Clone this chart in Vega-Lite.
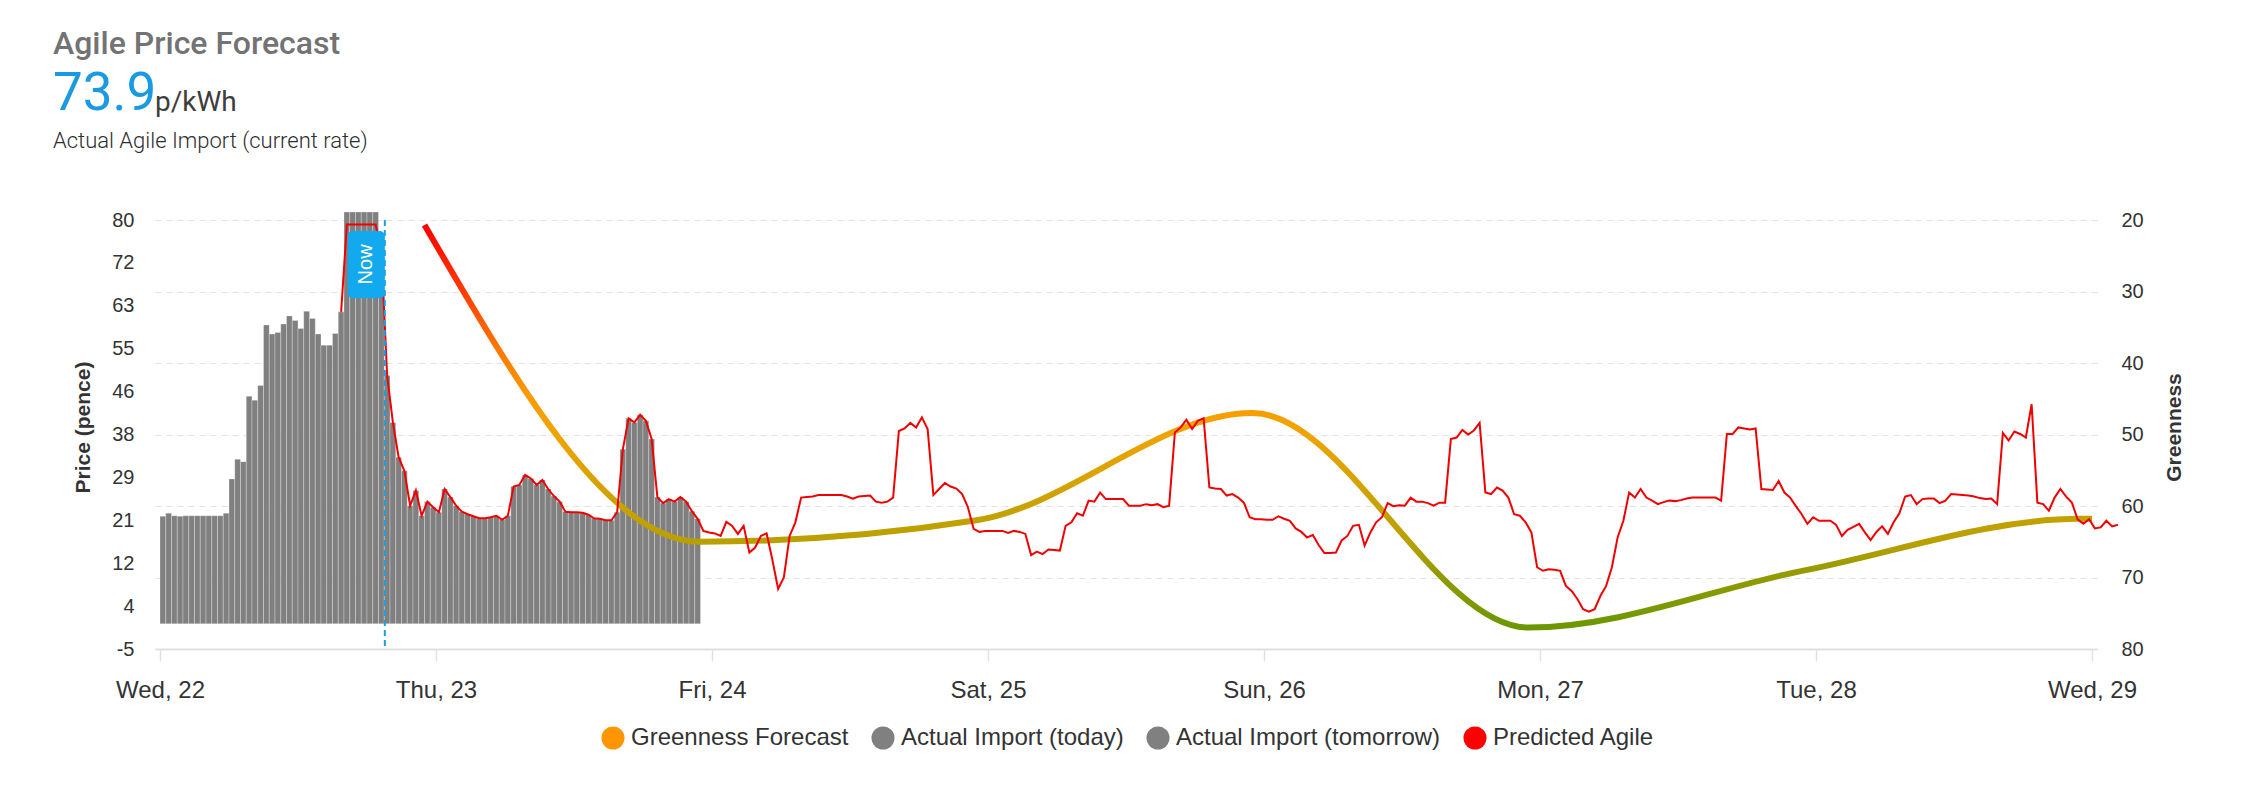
{
  "$schema": "https://vega.github.io/schema/vega-lite/v6.json",
  "background": "#ffffff",
  "padding": {"left": 53, "top": 28, "right": 5, "bottom": 5},
  "config": {"view": {"stroke": null}, "font": "Liberation Sans"},
  "title": {
    "text": "Agile Price Forecast",
    "subtitle": "73.9",
    "anchor": "start",
    "frame": "group",
    "dx": -102,
    "font": "Roboto",
    "fontSize": 32,
    "fontWeight": 500,
    "color": "#737373",
    "subtitleFont": "Roboto",
    "subtitleFontSize": 53,
    "subtitleFontWeight": 400,
    "subtitleColor": "#1a9ae0",
    "subtitlePadding": 7,
    "offset": -33
  },
  "datasets": {
    "bars": [
      {"s": "2025-01-22T00:00", "e": "2025-01-22T00:30", "p": 21.3, "series": "Actual Import (today)"},
      {"s": "2025-01-22T00:30", "e": "2025-01-22T01:00", "p": 21.9, "series": "Actual Import (today)"},
      {"s": "2025-01-22T01:00", "e": "2025-01-22T01:30", "p": 21.4, "series": "Actual Import (today)"},
      {"s": "2025-01-22T01:30", "e": "2025-01-22T02:00", "p": 21.3, "series": "Actual Import (today)"},
      {"s": "2025-01-22T02:00", "e": "2025-01-22T02:30", "p": 21.4, "series": "Actual Import (today)"},
      {"s": "2025-01-22T02:30", "e": "2025-01-22T03:00", "p": 21.4, "series": "Actual Import (today)"},
      {"s": "2025-01-22T03:00", "e": "2025-01-22T03:30", "p": 21.4, "series": "Actual Import (today)"},
      {"s": "2025-01-22T03:30", "e": "2025-01-22T04:00", "p": 21.4, "series": "Actual Import (today)"},
      {"s": "2025-01-22T04:00", "e": "2025-01-22T04:30", "p": 21.4, "series": "Actual Import (today)"},
      {"s": "2025-01-22T04:30", "e": "2025-01-22T05:00", "p": 21.4, "series": "Actual Import (today)"},
      {"s": "2025-01-22T05:00", "e": "2025-01-22T05:30", "p": 21.4, "series": "Actual Import (today)"},
      {"s": "2025-01-22T05:30", "e": "2025-01-22T06:00", "p": 21.9, "series": "Actual Import (today)"},
      {"s": "2025-01-22T06:00", "e": "2025-01-22T06:30", "p": 28.7, "series": "Actual Import (today)"},
      {"s": "2025-01-22T06:30", "e": "2025-01-22T07:00", "p": 32.6, "series": "Actual Import (today)"},
      {"s": "2025-01-22T07:00", "e": "2025-01-22T07:30", "p": 32.1, "series": "Actual Import (today)"},
      {"s": "2025-01-22T07:30", "e": "2025-01-22T08:00", "p": 45.1, "series": "Actual Import (today)"},
      {"s": "2025-01-22T08:00", "e": "2025-01-22T08:30", "p": 44.3, "series": "Actual Import (today)"},
      {"s": "2025-01-22T08:30", "e": "2025-01-22T09:00", "p": 47.2, "series": "Actual Import (today)"},
      {"s": "2025-01-22T09:00", "e": "2025-01-22T09:30", "p": 59.2, "series": "Actual Import (today)"},
      {"s": "2025-01-22T09:30", "e": "2025-01-22T10:00", "p": 57.4, "series": "Actual Import (today)"},
      {"s": "2025-01-22T10:00", "e": "2025-01-22T10:30", "p": 57.7, "series": "Actual Import (today)"},
      {"s": "2025-01-22T10:30", "e": "2025-01-22T11:00", "p": 59.4, "series": "Actual Import (today)"},
      {"s": "2025-01-22T11:00", "e": "2025-01-22T11:30", "p": 61.0, "series": "Actual Import (today)"},
      {"s": "2025-01-22T11:30", "e": "2025-01-22T12:00", "p": 60.1, "series": "Actual Import (today)"},
      {"s": "2025-01-22T12:00", "e": "2025-01-22T12:30", "p": 58.5, "series": "Actual Import (today)"},
      {"s": "2025-01-22T12:30", "e": "2025-01-22T13:00", "p": 61.9, "series": "Actual Import (today)"},
      {"s": "2025-01-22T13:00", "e": "2025-01-22T13:30", "p": 60.5, "series": "Actual Import (today)"},
      {"s": "2025-01-22T13:30", "e": "2025-01-22T14:00", "p": 57.4, "series": "Actual Import (today)"},
      {"s": "2025-01-22T14:00", "e": "2025-01-22T14:30", "p": 55.2, "series": "Actual Import (today)"},
      {"s": "2025-01-22T14:30", "e": "2025-01-22T15:00", "p": 55.2, "series": "Actual Import (today)"},
      {"s": "2025-01-22T15:00", "e": "2025-01-22T15:30", "p": 57.5, "series": "Actual Import (today)"},
      {"s": "2025-01-22T15:30", "e": "2025-01-22T16:00", "p": 61.8, "series": "Actual Import (today)"},
      {"s": "2025-01-22T16:00", "e": "2025-01-22T16:30", "p": 81.6, "series": "Actual Import (today)"},
      {"s": "2025-01-22T16:30", "e": "2025-01-22T17:00", "p": 81.6, "series": "Actual Import (today)"},
      {"s": "2025-01-22T17:00", "e": "2025-01-22T17:30", "p": 81.6, "series": "Actual Import (today)"},
      {"s": "2025-01-22T17:30", "e": "2025-01-22T18:00", "p": 81.6, "series": "Actual Import (today)"},
      {"s": "2025-01-22T18:00", "e": "2025-01-22T18:30", "p": 81.6, "series": "Actual Import (today)"},
      {"s": "2025-01-22T18:30", "e": "2025-01-22T19:00", "p": 81.6, "series": "Actual Import (today)"},
      {"s": "2025-01-22T19:00", "e": "2025-01-22T19:30", "p": 73.9, "series": "Actual Import (today)"},
      {"s": "2025-01-22T19:30", "e": "2025-01-22T20:00", "p": 49.2, "series": "Actual Import (today)"},
      {"s": "2025-01-22T20:00", "e": "2025-01-22T20:30", "p": 39.9, "series": "Actual Import (today)"},
      {"s": "2025-01-22T20:30", "e": "2025-01-22T21:00", "p": 33.0, "series": "Actual Import (today)"},
      {"s": "2025-01-22T21:00", "e": "2025-01-22T21:30", "p": 30.3, "series": "Actual Import (today)"},
      {"s": "2025-01-22T21:30", "e": "2025-01-22T22:00", "p": 23.4, "series": "Actual Import (today)"},
      {"s": "2025-01-22T22:00", "e": "2025-01-22T22:30", "p": 26.4, "series": "Actual Import (today)"},
      {"s": "2025-01-22T22:30", "e": "2025-01-22T23:00", "p": 21.4, "series": "Actual Import (today)"},
      {"s": "2025-01-22T23:00", "e": "2025-01-22T23:30", "p": 24.2, "series": "Actual Import (today)"},
      {"s": "2025-01-22T23:30", "e": "2025-01-23T00:00", "p": 23.1, "series": "Actual Import (today)"},
      {"s": "2025-01-23T00:00", "e": "2025-01-23T00:30", "p": 22.1, "series": "Actual Import (tomorrow)"},
      {"s": "2025-01-23T00:30", "e": "2025-01-23T01:00", "p": 26.7, "series": "Actual Import (tomorrow)"},
      {"s": "2025-01-23T01:00", "e": "2025-01-23T01:30", "p": 25.1, "series": "Actual Import (tomorrow)"},
      {"s": "2025-01-23T01:30", "e": "2025-01-23T02:00", "p": 23.4, "series": "Actual Import (tomorrow)"},
      {"s": "2025-01-23T02:00", "e": "2025-01-23T02:30", "p": 22.2, "series": "Actual Import (tomorrow)"},
      {"s": "2025-01-23T02:30", "e": "2025-01-23T03:00", "p": 21.7, "series": "Actual Import (tomorrow)"},
      {"s": "2025-01-23T03:00", "e": "2025-01-23T03:30", "p": 21.3, "series": "Actual Import (tomorrow)"},
      {"s": "2025-01-23T03:30", "e": "2025-01-23T04:00", "p": 20.9, "series": "Actual Import (tomorrow)"},
      {"s": "2025-01-23T04:00", "e": "2025-01-23T04:30", "p": 20.9, "series": "Actual Import (tomorrow)"},
      {"s": "2025-01-23T04:30", "e": "2025-01-23T05:00", "p": 21.1, "series": "Actual Import (tomorrow)"},
      {"s": "2025-01-23T05:00", "e": "2025-01-23T05:30", "p": 21.4, "series": "Actual Import (tomorrow)"},
      {"s": "2025-01-23T05:30", "e": "2025-01-23T06:00", "p": 20.6, "series": "Actual Import (tomorrow)"},
      {"s": "2025-01-23T06:00", "e": "2025-01-23T06:30", "p": 21.4, "series": "Actual Import (tomorrow)"},
      {"s": "2025-01-23T06:30", "e": "2025-01-23T07:00", "p": 27.2, "series": "Actual Import (tomorrow)"},
      {"s": "2025-01-23T07:00", "e": "2025-01-23T07:30", "p": 27.5, "series": "Actual Import (tomorrow)"},
      {"s": "2025-01-23T07:30", "e": "2025-01-23T08:00", "p": 29.5, "series": "Actual Import (tomorrow)"},
      {"s": "2025-01-23T08:00", "e": "2025-01-23T08:30", "p": 28.8, "series": "Actual Import (tomorrow)"},
      {"s": "2025-01-23T08:30", "e": "2025-01-23T09:00", "p": 27.5, "series": "Actual Import (tomorrow)"},
      {"s": "2025-01-23T09:00", "e": "2025-01-23T09:30", "p": 28.5, "series": "Actual Import (tomorrow)"},
      {"s": "2025-01-23T09:30", "e": "2025-01-23T10:00", "p": 26.7, "series": "Actual Import (tomorrow)"},
      {"s": "2025-01-23T10:00", "e": "2025-01-23T10:30", "p": 25.3, "series": "Actual Import (tomorrow)"},
      {"s": "2025-01-23T10:30", "e": "2025-01-23T11:00", "p": 24.2, "series": "Actual Import (tomorrow)"},
      {"s": "2025-01-23T11:00", "e": "2025-01-23T11:30", "p": 22.2, "series": "Actual Import (tomorrow)"},
      {"s": "2025-01-23T11:30", "e": "2025-01-23T12:00", "p": 22.1, "series": "Actual Import (tomorrow)"},
      {"s": "2025-01-23T12:00", "e": "2025-01-23T12:30", "p": 22.1, "series": "Actual Import (tomorrow)"},
      {"s": "2025-01-23T12:30", "e": "2025-01-23T13:00", "p": 22.0, "series": "Actual Import (tomorrow)"},
      {"s": "2025-01-23T13:00", "e": "2025-01-23T13:30", "p": 21.6, "series": "Actual Import (tomorrow)"},
      {"s": "2025-01-23T13:30", "e": "2025-01-23T14:00", "p": 20.9, "series": "Actual Import (tomorrow)"},
      {"s": "2025-01-23T14:00", "e": "2025-01-23T14:30", "p": 20.8, "series": "Actual Import (tomorrow)"},
      {"s": "2025-01-23T14:30", "e": "2025-01-23T15:00", "p": 20.5, "series": "Actual Import (tomorrow)"},
      {"s": "2025-01-23T15:00", "e": "2025-01-23T15:30", "p": 20.5, "series": "Actual Import (tomorrow)"},
      {"s": "2025-01-23T15:30", "e": "2025-01-23T16:00", "p": 22.1, "series": "Actual Import (tomorrow)"},
      {"s": "2025-01-23T16:00", "e": "2025-01-23T16:30", "p": 34.6, "series": "Actual Import (tomorrow)"},
      {"s": "2025-01-23T16:30", "e": "2025-01-23T17:00", "p": 40.7, "series": "Actual Import (tomorrow)"},
      {"s": "2025-01-23T17:00", "e": "2025-01-23T17:30", "p": 39.9, "series": "Actual Import (tomorrow)"},
      {"s": "2025-01-23T17:30", "e": "2025-01-23T18:00", "p": 41.4, "series": "Actual Import (tomorrow)"},
      {"s": "2025-01-23T18:00", "e": "2025-01-23T18:30", "p": 40.2, "series": "Actual Import (tomorrow)"},
      {"s": "2025-01-23T18:30", "e": "2025-01-23T19:00", "p": 36.6, "series": "Actual Import (tomorrow)"},
      {"s": "2025-01-23T19:00", "e": "2025-01-23T19:30", "p": 25.1, "series": "Actual Import (tomorrow)"},
      {"s": "2025-01-23T19:30", "e": "2025-01-23T20:00", "p": 23.9, "series": "Actual Import (tomorrow)"},
      {"s": "2025-01-23T20:00", "e": "2025-01-23T20:30", "p": 24.7, "series": "Actual Import (tomorrow)"},
      {"s": "2025-01-23T20:30", "e": "2025-01-23T21:00", "p": 24.2, "series": "Actual Import (tomorrow)"},
      {"s": "2025-01-23T21:00", "e": "2025-01-23T21:30", "p": 25.1, "series": "Actual Import (tomorrow)"},
      {"s": "2025-01-23T21:30", "e": "2025-01-23T22:00", "p": 24.2, "series": "Actual Import (tomorrow)"},
      {"s": "2025-01-23T22:00", "e": "2025-01-23T22:30", "p": 22.3, "series": "Actual Import (tomorrow)"},
      {"s": "2025-01-23T22:30", "e": "2025-01-23T23:00", "p": 20.8, "series": "Actual Import (tomorrow)"}
    ],
    "green": [
      {"t": "2025-01-22T23:00", "g": 20.7},
      {"t": "2025-01-23T23:00", "g": 65.0},
      {"t": "2025-01-24T23:00", "g": 62.0},
      {"t": "2025-01-25T23:00", "g": 47.0},
      {"t": "2025-01-26T23:00", "g": 77.0},
      {"t": "2025-01-27T23:00", "g": 69.0},
      {"t": "2025-01-28T23:00", "g": 61.8},
      {"t": "2025-01-29T00:00", "g": 61.8}
    ],
    "now": [
      {"t": "2025-01-22T19:33", "label": "Now"}
    ],
    "agile": [
      {"t": "2025-01-22T15:45", "p": 61.8}, {"t": "2025-01-22T16:15", "p": 79.1}, {"t": "2025-01-22T16:45", "p": 79.1},
      {"t": "2025-01-22T17:15", "p": 79.1}, {"t": "2025-01-22T17:45", "p": 79.1}, {"t": "2025-01-22T18:15", "p": 79.1},
      {"t": "2025-01-22T18:45", "p": 79.1}, {"t": "2025-01-22T19:15", "p": 73.9}, {"t": "2025-01-22T19:45", "p": 49.2},
      {"t": "2025-01-22T20:15", "p": 39.9}, {"t": "2025-01-22T20:45", "p": 33.0}, {"t": "2025-01-22T21:15", "p": 30.3},
      {"t": "2025-01-22T21:45", "p": 23.4}, {"t": "2025-01-22T22:15", "p": 26.4}, {"t": "2025-01-22T22:45", "p": 21.4},
      {"t": "2025-01-22T23:15", "p": 24.2}, {"t": "2025-01-22T23:45", "p": 23.1},
      {"t": "2025-01-23T00:15", "p": 22.1}, {"t": "2025-01-23T00:45", "p": 26.7}, {"t": "2025-01-23T01:15", "p": 25.1},
      {"t": "2025-01-23T01:45", "p": 23.4}, {"t": "2025-01-23T02:15", "p": 22.2}, {"t": "2025-01-23T02:45", "p": 21.7},
      {"t": "2025-01-23T03:15", "p": 21.3}, {"t": "2025-01-23T03:45", "p": 20.9}, {"t": "2025-01-23T04:15", "p": 20.9},
      {"t": "2025-01-23T04:45", "p": 21.1}, {"t": "2025-01-23T05:15", "p": 21.4}, {"t": "2025-01-23T05:45", "p": 20.6},
      {"t": "2025-01-23T06:15", "p": 21.4}, {"t": "2025-01-23T06:45", "p": 27.2}, {"t": "2025-01-23T07:15", "p": 27.5},
      {"t": "2025-01-23T07:45", "p": 29.5}, {"t": "2025-01-23T08:15", "p": 28.8}, {"t": "2025-01-23T08:45", "p": 27.5},
      {"t": "2025-01-23T09:15", "p": 28.5}, {"t": "2025-01-23T09:45", "p": 26.7}, {"t": "2025-01-23T10:15", "p": 25.3},
      {"t": "2025-01-23T10:45", "p": 24.2}, {"t": "2025-01-23T11:15", "p": 22.2}, {"t": "2025-01-23T11:45", "p": 22.1},
      {"t": "2025-01-23T12:15", "p": 22.1}, {"t": "2025-01-23T12:45", "p": 22.0}, {"t": "2025-01-23T13:15", "p": 21.6},
      {"t": "2025-01-23T13:45", "p": 20.9}, {"t": "2025-01-23T14:15", "p": 20.8}, {"t": "2025-01-23T14:45", "p": 20.5},
      {"t": "2025-01-23T15:15", "p": 20.5}, {"t": "2025-01-23T15:45", "p": 22.1}, {"t": "2025-01-23T16:15", "p": 34.6},
      {"t": "2025-01-23T16:45", "p": 40.7}, {"t": "2025-01-23T17:15", "p": 39.9}, {"t": "2025-01-23T17:45", "p": 41.4},
      {"t": "2025-01-23T18:15", "p": 40.2}, {"t": "2025-01-23T18:45", "p": 36.6}, {"t": "2025-01-23T19:15", "p": 25.1},
      {"t": "2025-01-23T19:45", "p": 23.9}, {"t": "2025-01-23T20:15", "p": 24.7}, {"t": "2025-01-23T20:45", "p": 24.2},
      {"t": "2025-01-23T21:15", "p": 25.1}, {"t": "2025-01-23T21:45", "p": 24.2}, {"t": "2025-01-23T22:15", "p": 22.3},
      {"t": "2025-01-23T22:45", "p": 20.8}, {"t": "2025-01-23T23:15", "p": 18.4}, {"t": "2025-01-23T23:45", "p": 18.1},
      {"t": "2025-01-24T00:15", "p": 17.9}, {"t": "2025-01-24T00:45", "p": 17.4}, {"t": "2025-01-24T01:15", "p": 20.2},
      {"t": "2025-01-24T01:45", "p": 19.4}, {"t": "2025-01-24T02:15", "p": 17.8}, {"t": "2025-01-24T02:45", "p": 19.4},
      {"t": "2025-01-24T03:15", "p": 14.1}, {"t": "2025-01-24T03:45", "p": 15.1}, {"t": "2025-01-24T04:15", "p": 17.4},
      {"t": "2025-01-24T04:45", "p": 17.9}, {"t": "2025-01-24T05:15", "p": 12.7}, {"t": "2025-01-24T05:45", "p": 6.9},
      {"t": "2025-01-24T06:15", "p": 9.2}, {"t": "2025-01-24T06:45", "p": 17.4}, {"t": "2025-01-24T07:15", "p": 20.1},
      {"t": "2025-01-24T07:45", "p": 25.0}, {"t": "2025-01-24T08:15", "p": 25.1}, {"t": "2025-01-24T08:45", "p": 25.2},
      {"t": "2025-01-24T09:15", "p": 25.5}, {"t": "2025-01-24T09:45", "p": 25.5}, {"t": "2025-01-24T10:15", "p": 25.5},
      {"t": "2025-01-24T10:45", "p": 25.5}, {"t": "2025-01-24T11:15", "p": 25.5}, {"t": "2025-01-24T11:45", "p": 25.2},
      {"t": "2025-01-24T12:15", "p": 24.8}, {"t": "2025-01-24T12:45", "p": 25.2}, {"t": "2025-01-24T13:15", "p": 25.3},
      {"t": "2025-01-24T13:45", "p": 25.4}, {"t": "2025-01-24T14:15", "p": 24.2}, {"t": "2025-01-24T14:45", "p": 24.0},
      {"t": "2025-01-24T15:15", "p": 24.2}, {"t": "2025-01-24T15:45", "p": 25.0}, {"t": "2025-01-24T16:15", "p": 38.2},
      {"t": "2025-01-24T16:45", "p": 38.7}, {"t": "2025-01-24T17:15", "p": 39.8}, {"t": "2025-01-24T17:45", "p": 38.9},
      {"t": "2025-01-24T18:15", "p": 40.9}, {"t": "2025-01-24T18:45", "p": 38.6}, {"t": "2025-01-24T19:15", "p": 25.5},
      {"t": "2025-01-24T19:45", "p": 26.7}, {"t": "2025-01-24T20:15", "p": 27.9}, {"t": "2025-01-24T20:45", "p": 27.2},
      {"t": "2025-01-24T21:15", "p": 26.8}, {"t": "2025-01-24T21:45", "p": 25.7}, {"t": "2025-01-24T22:15", "p": 23.1},
      {"t": "2025-01-24T22:45", "p": 18.8}, {"t": "2025-01-24T23:15", "p": 18.2}, {"t": "2025-01-24T23:45", "p": 18.4},
      {"t": "2025-01-25T00:15", "p": 18.4}, {"t": "2025-01-25T00:45", "p": 18.4}, {"t": "2025-01-25T01:15", "p": 18.4},
      {"t": "2025-01-25T01:45", "p": 18.0}, {"t": "2025-01-25T02:15", "p": 18.4}, {"t": "2025-01-25T02:45", "p": 18.2},
      {"t": "2025-01-25T03:15", "p": 17.8}, {"t": "2025-01-25T03:45", "p": 13.6}, {"t": "2025-01-25T04:15", "p": 14.3},
      {"t": "2025-01-25T04:45", "p": 13.8}, {"t": "2025-01-25T05:15", "p": 14.7}, {"t": "2025-01-25T05:45", "p": 14.6},
      {"t": "2025-01-25T06:15", "p": 14.5}, {"t": "2025-01-25T06:45", "p": 19.4}, {"t": "2025-01-25T07:15", "p": 20.1},
      {"t": "2025-01-25T07:45", "p": 21.9}, {"t": "2025-01-25T08:15", "p": 21.4}, {"t": "2025-01-25T08:45", "p": 24.4},
      {"t": "2025-01-25T09:15", "p": 24.2}, {"t": "2025-01-25T09:45", "p": 26.0}, {"t": "2025-01-25T10:15", "p": 24.7},
      {"t": "2025-01-25T10:45", "p": 24.7}, {"t": "2025-01-25T11:15", "p": 24.7}, {"t": "2025-01-25T11:45", "p": 24.7},
      {"t": "2025-01-25T12:15", "p": 23.4}, {"t": "2025-01-25T12:45", "p": 23.4}, {"t": "2025-01-25T13:15", "p": 23.4},
      {"t": "2025-01-25T13:45", "p": 23.7}, {"t": "2025-01-25T14:15", "p": 23.5}, {"t": "2025-01-25T14:45", "p": 23.7},
      {"t": "2025-01-25T15:15", "p": 23.1}, {"t": "2025-01-25T15:45", "p": 23.4}, {"t": "2025-01-25T16:15", "p": 37.9},
      {"t": "2025-01-25T16:45", "p": 38.9}, {"t": "2025-01-25T17:15", "p": 40.4}, {"t": "2025-01-25T17:45", "p": 38.6},
      {"t": "2025-01-25T18:15", "p": 40.2}, {"t": "2025-01-25T18:45", "p": 40.7}, {"t": "2025-01-25T19:15", "p": 27.0},
      {"t": "2025-01-25T19:45", "p": 26.8}, {"t": "2025-01-25T20:15", "p": 26.7}, {"t": "2025-01-25T20:45", "p": 25.4},
      {"t": "2025-01-25T21:15", "p": 25.7}, {"t": "2025-01-25T21:45", "p": 25.0}, {"t": "2025-01-25T22:15", "p": 24.0},
      {"t": "2025-01-25T22:45", "p": 21.1}, {"t": "2025-01-25T23:15", "p": 20.7}, {"t": "2025-01-25T23:45", "p": 20.7},
      {"t": "2025-01-26T00:15", "p": 20.6}, {"t": "2025-01-26T00:45", "p": 20.6}, {"t": "2025-01-26T01:15", "p": 21.3},
      {"t": "2025-01-26T01:45", "p": 20.8}, {"t": "2025-01-26T02:15", "p": 20.4}, {"t": "2025-01-26T02:45", "p": 18.9},
      {"t": "2025-01-26T03:15", "p": 18.2}, {"t": "2025-01-26T03:45", "p": 17.1}, {"t": "2025-01-26T04:15", "p": 17.6},
      {"t": "2025-01-26T04:45", "p": 15.6}, {"t": "2025-01-26T05:15", "p": 14.0}, {"t": "2025-01-26T05:45", "p": 14.0},
      {"t": "2025-01-26T06:15", "p": 14.1}, {"t": "2025-01-26T06:45", "p": 16.5}, {"t": "2025-01-26T07:15", "p": 17.4},
      {"t": "2025-01-26T07:45", "p": 19.4}, {"t": "2025-01-26T08:15", "p": 19.6}, {"t": "2025-01-26T08:45", "p": 15.5},
      {"t": "2025-01-26T09:15", "p": 18.1}, {"t": "2025-01-26T09:45", "p": 20.1}, {"t": "2025-01-26T10:15", "p": 21.1},
      {"t": "2025-01-26T10:45", "p": 23.9}, {"t": "2025-01-26T11:15", "p": 23.3}, {"t": "2025-01-26T11:45", "p": 23.5},
      {"t": "2025-01-26T12:15", "p": 23.4}, {"t": "2025-01-26T12:45", "p": 25.0}, {"t": "2025-01-26T13:15", "p": 24.2},
      {"t": "2025-01-26T13:45", "p": 24.2}, {"t": "2025-01-26T14:15", "p": 23.9}, {"t": "2025-01-26T14:45", "p": 23.4},
      {"t": "2025-01-26T15:15", "p": 24.0}, {"t": "2025-01-26T15:45", "p": 24.0}, {"t": "2025-01-26T16:15", "p": 36.6},
      {"t": "2025-01-26T16:45", "p": 36.9}, {"t": "2025-01-26T17:15", "p": 38.4}, {"t": "2025-01-26T17:45", "p": 37.5},
      {"t": "2025-01-26T18:15", "p": 38.3}, {"t": "2025-01-26T18:45", "p": 39.8}, {"t": "2025-01-26T19:15", "p": 26.0},
      {"t": "2025-01-26T19:45", "p": 25.7}, {"t": "2025-01-26T20:15", "p": 27.0}, {"t": "2025-01-26T20:45", "p": 26.4},
      {"t": "2025-01-26T21:15", "p": 25.0}, {"t": "2025-01-26T21:45", "p": 21.7}, {"t": "2025-01-26T22:15", "p": 21.4},
      {"t": "2025-01-26T22:45", "p": 20.1}, {"t": "2025-01-26T23:15", "p": 18.1}, {"t": "2025-01-26T23:45", "p": 11.2},
      {"t": "2025-01-27T00:15", "p": 10.5}, {"t": "2025-01-27T00:45", "p": 10.8}, {"t": "2025-01-27T01:15", "p": 10.7},
      {"t": "2025-01-27T01:45", "p": 10.5}, {"t": "2025-01-27T02:15", "p": 7.5}, {"t": "2025-01-27T02:45", "p": 6.5},
      {"t": "2025-01-27T03:15", "p": 4.9}, {"t": "2025-01-27T03:45", "p": 2.9}, {"t": "2025-01-27T04:15", "p": 2.4},
      {"t": "2025-01-27T04:45", "p": 2.9}, {"t": "2025-01-27T05:15", "p": 5.5}, {"t": "2025-01-27T05:45", "p": 7.5},
      {"t": "2025-01-27T06:15", "p": 11.2}, {"t": "2025-01-27T06:45", "p": 17.1}, {"t": "2025-01-27T07:15", "p": 20.4},
      {"t": "2025-01-27T07:45", "p": 26.0}, {"t": "2025-01-27T08:15", "p": 25.0}, {"t": "2025-01-27T08:45", "p": 26.7},
      {"t": "2025-01-27T09:15", "p": 25.0}, {"t": "2025-01-27T09:45", "p": 24.4}, {"t": "2025-01-27T10:15", "p": 23.7},
      {"t": "2025-01-27T10:45", "p": 24.1}, {"t": "2025-01-27T11:15", "p": 24.4}, {"t": "2025-01-27T11:45", "p": 24.3},
      {"t": "2025-01-27T12:15", "p": 24.5}, {"t": "2025-01-27T12:45", "p": 24.8}, {"t": "2025-01-27T13:15", "p": 25.0},
      {"t": "2025-01-27T13:45", "p": 25.0}, {"t": "2025-01-27T14:15", "p": 25.0}, {"t": "2025-01-27T14:45", "p": 25.0},
      {"t": "2025-01-27T15:15", "p": 25.0}, {"t": "2025-01-27T15:45", "p": 24.4}, {"t": "2025-01-27T16:15", "p": 37.6},
      {"t": "2025-01-27T16:45", "p": 37.6}, {"t": "2025-01-27T17:15", "p": 38.9}, {"t": "2025-01-27T17:45", "p": 38.7},
      {"t": "2025-01-27T18:15", "p": 38.5}, {"t": "2025-01-27T18:45", "p": 38.7}, {"t": "2025-01-27T19:15", "p": 26.7},
      {"t": "2025-01-27T19:45", "p": 26.6}, {"t": "2025-01-27T20:15", "p": 26.5}, {"t": "2025-01-27T20:45", "p": 28.3},
      {"t": "2025-01-27T21:15", "p": 26.0}, {"t": "2025-01-27T21:45", "p": 25.0}, {"t": "2025-01-27T22:15", "p": 23.3},
      {"t": "2025-01-27T22:45", "p": 21.7}, {"t": "2025-01-27T23:15", "p": 19.8}, {"t": "2025-01-27T23:45", "p": 21.1},
      {"t": "2025-01-28T00:15", "p": 20.4}, {"t": "2025-01-28T00:45", "p": 20.4}, {"t": "2025-01-28T01:15", "p": 20.4},
      {"t": "2025-01-28T01:45", "p": 19.6}, {"t": "2025-01-28T02:15", "p": 17.4}, {"t": "2025-01-28T02:45", "p": 18.6},
      {"t": "2025-01-28T03:15", "p": 19.2}, {"t": "2025-01-28T03:45", "p": 19.8}, {"t": "2025-01-28T04:15", "p": 18.1},
      {"t": "2025-01-28T04:45", "p": 16.6}, {"t": "2025-01-28T05:15", "p": 18.2}, {"t": "2025-01-28T05:45", "p": 19.3},
      {"t": "2025-01-28T06:15", "p": 17.8}, {"t": "2025-01-28T06:45", "p": 20.1}, {"t": "2025-01-28T07:15", "p": 21.9},
      {"t": "2025-01-28T07:45", "p": 25.2}, {"t": "2025-01-28T08:15", "p": 25.5}, {"t": "2025-01-28T08:45", "p": 23.7},
      {"t": "2025-01-28T09:15", "p": 24.7}, {"t": "2025-01-28T09:45", "p": 24.8}, {"t": "2025-01-28T10:15", "p": 24.8},
      {"t": "2025-01-28T10:45", "p": 23.9}, {"t": "2025-01-28T11:15", "p": 24.4}, {"t": "2025-01-28T11:45", "p": 25.7},
      {"t": "2025-01-28T12:15", "p": 25.6}, {"t": "2025-01-28T12:45", "p": 25.5}, {"t": "2025-01-28T13:15", "p": 25.4},
      {"t": "2025-01-28T13:45", "p": 25.2}, {"t": "2025-01-28T14:15", "p": 24.9}, {"t": "2025-01-28T14:45", "p": 24.7},
      {"t": "2025-01-28T15:15", "p": 24.8}, {"t": "2025-01-28T15:45", "p": 23.7}, {"t": "2025-01-28T16:15", "p": 37.8},
      {"t": "2025-01-28T16:45", "p": 36.3}, {"t": "2025-01-28T17:15", "p": 38.1}, {"t": "2025-01-28T17:45", "p": 37.6},
      {"t": "2025-01-28T18:15", "p": 36.9}, {"t": "2025-01-28T18:45", "p": 43.5}, {"t": "2025-01-28T19:15", "p": 24.0},
      {"t": "2025-01-28T19:45", "p": 23.7}, {"t": "2025-01-28T20:15", "p": 22.4}, {"t": "2025-01-28T20:45", "p": 25.0},
      {"t": "2025-01-28T21:15", "p": 26.7}, {"t": "2025-01-28T21:45", "p": 25.2}, {"t": "2025-01-28T22:15", "p": 24.0},
      {"t": "2025-01-28T22:45", "p": 20.7}, {"t": "2025-01-28T23:15", "p": 19.8}, {"t": "2025-01-28T23:45", "p": 20.7},
      {"t": "2025-01-29T00:15", "p": 18.9}, {"t": "2025-01-29T00:45", "p": 19.1}, {"t": "2025-01-29T01:15", "p": 20.4},
      {"t": "2025-01-29T01:45", "p": 19.3}, {"t": "2025-01-29T02:15", "p": 19.6}
    ]
  },
  "vconcat": [
    {
      "title": {
        "text": "p/kWh",
        "anchor": "start",
        "frame": "group",
        "font": "Roboto",
        "fontSize": 28,
        "fontWeight": 400,
        "color": "#3d3d3d",
        "dx": 0,
        "offset": 13
      },
      "vconcat": [
        {
          "title": {
            "text": "Actual Agile Import (current rate)",
            "anchor": "start",
            "frame": "group",
            "font": "Roboto",
            "fontSize": 22,
            "fontWeight": 300,
            "color": "#2e2e2e",
            "dx": -102,
            "offset": 57
          },
          "width": 1942,
          "height": 429,
          "layer": [
            {
              "data": {"name": "bars"},
              "mark": {"type": "bar", "stroke": "#ffffff", "strokeWidth": 0.6, "strokeOpacity": 0.45},
              "encoding": {
                "x": {
                  "field": "s",
                  "type": "temporal",
                  "scale": {"domain": [{"year": 2025, "month": 1, "date": 22}, {"year": 2025, "month": 1, "date": 29}]},
                  "axis": {
                    "title": null,
                    "format": "%a, %d",
                    "tickCount": {"interval": "day", "step": 1},
                    "labelFlush": false,
                    "labelOverlap": false,
                    "grid": false,
                    "domainColor": "#e0e0e0",
                    "domainWidth": 2,
                    "tickColor": "#e0e0e0",
                    "tickWidth": 1.5,
                    "tickSize": 12,
                    "labelFontSize": 24,
                    "labelColor": "#333333",
                    "labelPadding": 17
                  }
                },
                "x2": {"field": "e"},
                "y": {
                  "field": "p",
                  "type": "quantitative",
                  "scale": {"domain": [-5, 80], "nice": false, "zero": false},
                  "axis": {
                    "title": "Price (pence)",
                    "orient": "left",
                    "values": [-5, 3.5, 12, 20.5, 29, 37.5, 46, 54.5, 63, 71.5, 80],
                    "labelExpr": "datum.value < 0 ? '-' + format(-datum.value, '.0f') : format(datum.value, '.0f')",
                    "labelOverlap": false,
                    "grid": false,
                    "domain": false,
                    "ticks": false,
                    "labelFontSize": 20,
                    "labelColor": "#333333",
                    "labelPadding": 21,
                    "titleFontSize": 21,
                    "titleFontWeight": "bold",
                    "titleColor": "#333333",
                    "titlePadding": 18,
                    "titleY": 207
                  }
                },
                "y2": {"datum": 0},
                "color": {
                  "field": "series",
                  "type": "nominal",
                  "scale": {
                    "domain": ["Greenness Forecast", "Actual Import (today)", "Actual Import (tomorrow)", "Predicted Agile"],
                    "range": ["#ff9500", "#808080", "#808080", "#ff0000"]
                  },
                  "legend": {
                    "title": null,
                    "orient": "none",
                    "legendX": 446,
                    "legendY": 506,
                    "direction": "horizontal",
                    "symbolType": "circle",
                    "symbolSize": 530,
                    "symbolStrokeWidth": 0,
                    "labelFontSize": 24,
                    "labelColor": "#333333",
                    "labelLimit": 400,
                    "columnPadding": 22,
                    "labelOffset": 6
                  }
                }
              }
            },
            {
              "data": {"name": "green"},
              "mark": {
                "type": "line",
                "interpolate": "monotone",
                "strokeWidth": 6,
                "stroke": {
                  "gradient": "linear",
                  "x1": 0, "y1": 0, "x2": 0, "y2": 1,
                  "stops": [
                    {"offset": 0, "color": "#ff0000"},
                    {"offset": 0.15, "color": "#ff3600"},
                    {"offset": 0.3, "color": "#ff7500"},
                    {"offset": 0.42, "color": "#fb9800"},
                    {"offset": 0.5, "color": "#f2a300"},
                    {"offset": 0.62, "color": "#dba300"},
                    {"offset": 0.73, "color": "#c2a100"},
                    {"offset": 0.79, "color": "#b8a000"},
                    {"offset": 0.86, "color": "#959b00"},
                    {"offset": 1, "color": "#6b9700"}
                  ]
                }
              },
              "encoding": {
                "x": {"field": "t", "type": "temporal"},
                "y": {
                  "field": "g",
                  "type": "quantitative",
                  "scale": {"domain": [20, 80], "reverse": true, "nice": false, "zero": false},
                  "axis": {
                    "title": "Greenness",
                    "orient": "right",
                    "values": [20, 30, 40, 50, 60, 70, 80],
                    "grid": true,
                    "gridColor": "#e2e2e2",
                    "gridDash": [6, 5],
                    "gridWidth": 1.2,
                    "domain": false,
                    "ticks": false,
                    "labelFontSize": 20,
                    "labelColor": "#333333",
                    "labelPadding": 24,
                    "titleFontSize": 21,
                    "titleFontWeight": "bold",
                    "titleColor": "#333333",
                    "titleAngle": 270,
                    "titleBaseline": "top",
                    "titlePadding": 20,
                    "titleY": 207
                  }
                }
              }
            },
            {
              "data": {"name": "agile"},
              "mark": {"type": "line", "stroke": "#f00000", "strokeWidth": 2},
              "encoding": {
                "x": {"field": "t", "type": "temporal"},
                "y": {"field": "p", "type": "quantitative", "scale": {"domain": [-5, 80], "nice": false, "zero": false}, "axis": null}
              }
            },
            {
              "data": {"name": "now"},
              "mark": {"type": "rule", "stroke": "#1b9fe4", "strokeWidth": 2, "strokeDash": [6, 4]},
              "encoding": {
                "x": {"field": "t", "type": "temporal"}
              }
            },
            {
              "data": {"name": "now"},
              "mark": {"type": "bar", "width": 37, "xOffset": -18.5, "cornerRadius": 5, "fill": "#12a9ef"},
              "encoding": {
                "x": {"field": "t", "type": "temporal"},
                "y": {"datum": 77.8, "type": "quantitative", "scale": {"domain": [-5, 80], "nice": false, "zero": false}, "axis": null},
                "y2": {"datum": 64.5}
              }
            },
            {
              "data": {"name": "now"},
              "mark": {"type": "text", "angle": 270, "fontSize": 20, "color": "#ffffff", "align": "center", "baseline": "middle", "xOffset": -18.5},
              "encoding": {
                "x": {"field": "t", "type": "temporal"},
                "y": {"datum": 71.2, "type": "quantitative", "scale": {"domain": [-5, 80], "nice": false, "zero": false}, "axis": null},
                "text": {"field": "label"}
              }
            }
          ],
          "resolve": {"scale": {"y": "independent"}, "axis": {"y": "independent"}}
        }
      ]
    }
  ]
}
